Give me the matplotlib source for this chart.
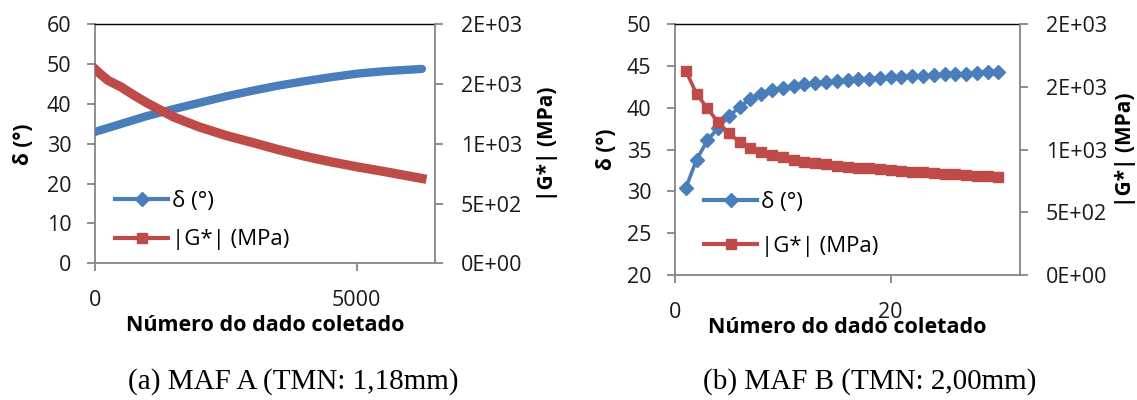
import matplotlib
matplotlib.use("Agg")
import matplotlib.pyplot as plt
from matplotlib.lines import Line2D

# ---------------- data ----------------
# (a) MAF A : dense record
a_x = [0, 100, 250, 500, 750, 1000, 1500, 2000, 2500, 3000, 3500, 4000, 4500, 5000, 5500, 6000, 6250]
a_delta = [33.0, 33.4, 34.0, 35.0, 36.0, 37.0, 38.7, 40.3, 41.9, 43.3, 44.6, 45.7, 46.7, 47.6, 48.2, 48.6, 48.8]
a_g = [1625, 1585, 1530, 1475, 1405, 1340, 1225, 1140, 1070, 1012, 952, 897, 850, 808, 770, 730, 710]

# (b) MAF B : 30 points
b_x = list(range(1, 31))
b_delta = [30.4, 33.8, 36.1, 37.6, 39.0, 40.1, 41.1, 41.7, 42.1, 42.4, 42.6, 42.8, 43.0, 43.1, 43.2,
           43.3, 43.4, 43.5, 43.6, 43.65, 43.7, 43.8, 43.85, 43.9, 44.0, 44.05, 44.1, 44.2, 44.25, 44.35]
b_g = [1630, 1445, 1330, 1218, 1130, 1062, 1010, 982, 957, 939, 917, 901, 891, 883, 872,
       864, 856, 851, 843, 838, 830, 824, 819, 814, 808, 803, 798, 792, 790, 784]

g_ticks = [0, 500, 1000, 1500, 2000]
g_ticklabels = ["0E+00", "5E+02", "1E+03", "2E+03", "2E+03"]
a_xticks = [0, 5000]
b_xticks = [0, 20]
a_delta_ticks = [0, 10, 20, 30, 40, 50, 60]
b_delta_ticks = [20, 25, 30, 35, 40, 45, 50]

label_delta = "δ (°)"
label_g = "|G*| (MPa)"
xlabel = "Número do dado coletado"
captions = ["(a) MAF A (TMN: 1,18mm)", "(b) MAF B (TMN: 2,00mm)"]

# ---------------- style ----------------
BLUE = "#4A7EBB"
RED = "#BE4B48"
GRAY = "#868686"
FONT = "Open Sans"
TS = 15.5   # tick labels
YS = 15     # y axis labels
XS = 15.5   # x axis label
GS = 16     # legend

W, H = 1137, 400
fig = plt.figure(figsize=(W / 100, H / 100), dpi=100)


def px_axes(l, r, t, b):
    return fig.add_axes([l / W, 1 - b / H, (r - l) / W, (b - t) / H])


def style(ax, ax2, xlim, ylim, xticks, yticks, ylabx, glabx, xlaby):
    ax.set_xlim(*xlim)
    ax.set_ylim(*ylim)
    ax2.set_ylim(0, 2000)
    ax.set_xticks(xticks)
    ax.set_yticks(yticks)
    ax2.set_yticks(g_ticks)
    ax2.set_yticklabels(g_ticklabels)
    for a in (ax, ax2):
        for s in a.spines.values():
            s.set_visible(False)
    ax.spines["left"].set_visible(True)
    ax.spines["bottom"].set_visible(True)
    ax.spines["top"].set_visible(True)
    ax2.spines["right"].set_visible(True)
    for key in ("left", "bottom"):
        ax.spines[key].set_color(GRAY)
        ax.spines[key].set_linewidth(1.3)
    ax2.spines["right"].set_color(GRAY)
    ax2.spines["right"].set_linewidth(1.3)
    ax.spines["top"].set_color("black")
    ax.spines["top"].set_linewidth(1.0)
    ax.tick_params(axis="y", direction="out", length=6, width=1.3, color=GRAY,
                   pad=11, labelsize=TS, labelcolor="#1a1a1a")
    ax.tick_params(axis="x", direction="out", length=6, width=1.3, color=GRAY,
                   pad=13.5, labelsize=TS, labelcolor="#1a1a1a")
    ax2.tick_params(axis="y", direction="out", length=6, width=1.3, color=GRAY,
                    pad=12.5, labelsize=TS, labelcolor="#1a1a1a")
    for lab in ax.get_xticklabels() + ax.get_yticklabels() + ax2.get_yticklabels():
        lab.set_family(FONT)
    ax.set_ylabel(label_delta, fontsize=YS, fontweight="bold", family=FONT, ha="center", va="center")
    ax.yaxis.set_label_coords(ylabx, 0.5)
    ax2.set_ylabel(label_g, fontsize=YS, fontweight="bold", family=FONT, ha="center", va="center")
    ax2.yaxis.set_label_coords(glabx, 0.5)
    ax.set_xlabel(xlabel, fontsize=XS, fontweight="bold", family=FONT, va="center")
    ax.xaxis.set_label_coords(0.5, xlaby)


def add_legend(ax, x0, y0, spacing):
    handles = [
        Line2D([], [], color=BLUE, lw=3, marker="D", markersize=7, markerfacecolor=BLUE, markeredgecolor=BLUE),
        Line2D([], [], color=RED, lw=3, marker="s", markersize=7, markerfacecolor=RED, markeredgecolor=RED),
    ]
    ax.legend(handles, [label_delta, label_g], loc="upper left", bbox_to_anchor=(x0, y0),
              frameon=False, borderaxespad=0, borderpad=0, handlelength=2.39,
              handletextpad=0.18, labelspacing=spacing,
              prop={"family": FONT, "size": GS})


# ---------- panel (a) ----------
axA = px_axes(95, 435, 24.3, 263.3)
axA2 = axA.twinx()
axA.plot(a_x, a_delta, color=BLUE, lw=6.0, solid_capstyle="round", zorder=3)
axA2.plot(a_x, a_g, color=RED, lw=6.7, solid_capstyle="projecting", zorder=3)
style(axA, axA2, (0, 6500), (0, 60), a_xticks, a_delta_ticks, -0.21, 1.33, -0.26)
add_legend(axA2, 0.059, 0.304, 0.8)

# ---------- panel (b) ----------
axB = px_axes(675, 1020, 24.3, 275)
axB2 = axB.twinx()
axB.plot(b_x, b_delta, color=BLUE, lw=2.6, marker="D", markersize=7.5,
         markerfacecolor=BLUE, markeredgecolor=BLUE, zorder=3)
axB2.plot(b_x, b_g, color=RED, lw=2.6, marker="s", markersize=7.5,
          markerfacecolor=RED, markeredgecolor=RED, zorder=3)
style(axB, axB2, (0, 32), (20, 50), b_xticks, b_delta_ticks, -0.2, 1.307, -0.21)
add_legend(axB2, 0.084, 0.331, 1.03)

# ---------- captions ----------
fig.text(293 / W, 1 - 382 / H, captions[0], ha="center", va="center",
         family="Liberation Serif", fontsize=21)
fig.text(870 / W, 1 - 382 / H, captions[1], ha="center", va="center",
         family="Liberation Serif", fontsize=21)

fig.savefig("out.png", dpi=100)
